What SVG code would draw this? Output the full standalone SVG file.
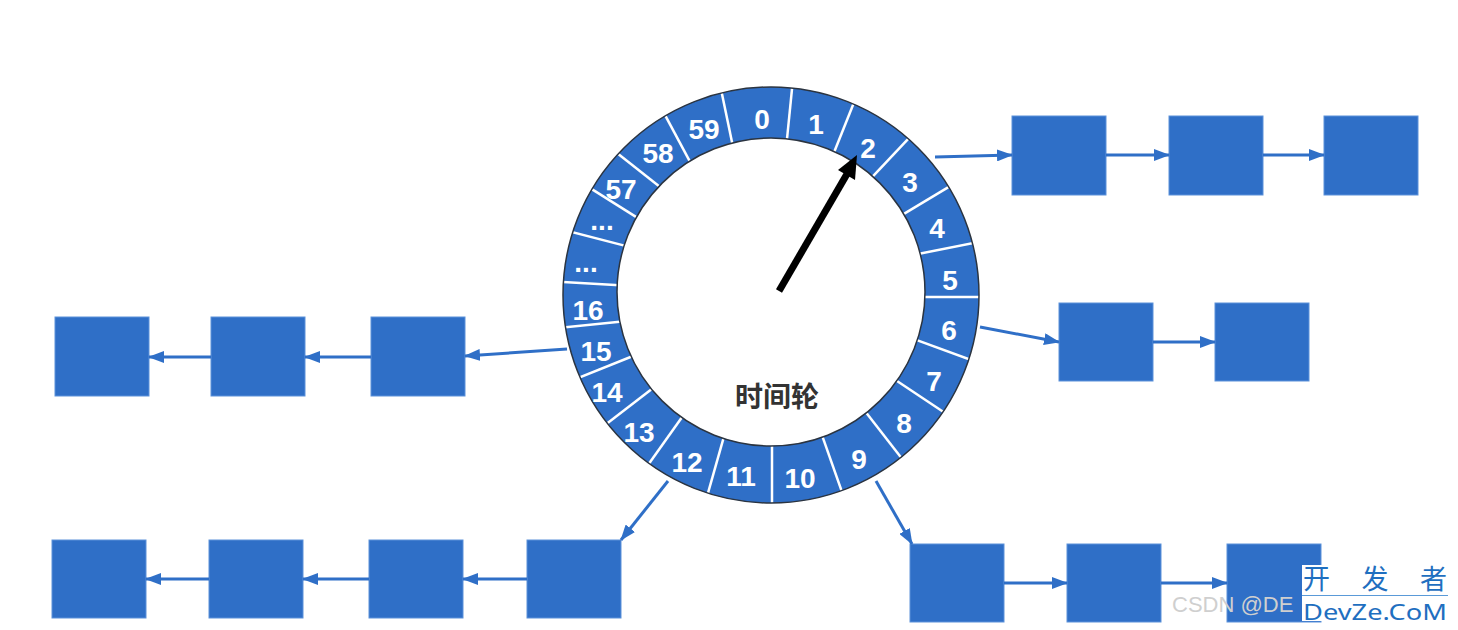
<svg xmlns="http://www.w3.org/2000/svg" width="1458" height="630" viewBox="0 0 1458 630">
<style>
.box{fill:#2F6FC7;stroke:#5C92DA;stroke-width:1}
.conn{stroke:#2F6FC7;stroke-width:3;fill:none;marker-end:url(#ah)}
.num{font-family:"Liberation Sans",Arial,sans-serif;font-weight:bold;font-size:28px;fill:#ffffff;text-anchor:middle;dominant-baseline:central}
.div{stroke:#ffffff;stroke-width:2.5}
</style>
<defs>
<marker id="ah" viewBox="0 0 16 12" refX="15" refY="6" markerWidth="16" markerHeight="12" markerUnits="userSpaceOnUse" orient="auto">
<path d="M0,0 L16,6 L0,12 Z" fill="#2F6FC7"/>
</marker>
<clipPath id="ringclip">
<path clip-rule="evenodd" d="M563,295 a208,208 0 1,0 416,0 a208,208 0 1,0 -416,0 Z M617,292 a154,154 0 1,0 308,0 a154,154 0 1,0 -308,0 Z"/>
</clipPath>
</defs>
<rect width="1458" height="630" fill="#ffffff"/>

<g id="wheel">
<path fill="#2F6FC7" fill-rule="evenodd" d="M563,295 a208,208 0 1,0 416,0 a208,208 0 1,0 -416,0 Z M617,292 a154,154 0 1,0 308,0 a154,154 0 1,0 -308,0 Z"/>
<g clip-path="url(#ringclip)" class="div">
<line x1="719" y1="79.6" x2="735" y2="156.4"/>
<line x1="793.5" y1="74" x2="785.5" y2="154"/>
<line x1="858.4" y1="91.5" x2="829.6" y2="163.5"/>
<line x1="920.2" y1="126.2" x2="865.8" y2="183.8"/>
<line x1="965.5" y1="176.9" x2="893.5" y2="220.1"/>
<line x1="988" y1="240" x2="908" y2="256"/>
<line x1="995" y1="297" x2="909" y2="297"/>
<line x1="985.7" y1="365.4" x2="907.3" y2="336.6"/>
<line x1="958.5" y1="422" x2="886.5" y2="374"/>
<line x1="913.5" y1="473.5" x2="857.5" y2="401.5"/>
<line x1="847.7" y1="508.2" x2="817.3" y2="421.8"/>
<line x1="772" y1="520" x2="772" y2="430"/>
<line x1="703.5" y1="508.9" x2="727.5" y2="424.1"/>
<line x1="638.4" y1="478.5" x2="689.6" y2="406.5"/>
<line x1="592.1" y1="434.9" x2="660.9" y2="382.1"/>
<line x1="563" y1="384" x2="643" y2="352"/>
<line x1="552" y1="328.5" x2="632" y2="320.5"/>
<line x1="549.4" y1="281.1" x2="632.6" y2="285.9"/>
<line x1="557" y1="228.1" x2="637" y2="248.9"/>
<line x1="577.1" y1="179.9" x2="645.9" y2="223.1"/>
<line x1="605.6" y1="144" x2="666.4" y2="192"/>
<line x1="658.1" y1="102.1" x2="694.9" y2="170.9"/>
</g>
<circle cx="771" cy="295" r="208" fill="none" stroke="#2B3440" stroke-width="1.5"/>
<circle cx="771" cy="292" r="154" fill="none" stroke="#2B3440" stroke-width="1.5"/>
<text class="num" x="762" y="119">0</text>
<text class="num" x="816" y="124">1</text>
<text class="num" x="868" y="148">2</text>
<text class="num" x="910" y="182">3</text>
<text class="num" x="937" y="228">4</text>
<text class="num" x="950" y="280">5</text>
<text class="num" x="949" y="330">6</text>
<text class="num" x="934" y="381">7</text>
<text class="num" x="904" y="423">8</text>
<text class="num" x="859" y="459">9</text>
<text class="num" x="800" y="478">10</text>
<text class="num" x="741" y="476">11</text>
<text class="num" x="687" y="462">12</text>
<text class="num" x="639" y="432">13</text>
<text class="num" x="607" y="392">14</text>
<text class="num" x="596" y="351">15</text>
<text class="num" x="588" y="310">16</text>
<text class="num" x="586" y="262">...</text>
<text class="num" x="602" y="220">...</text>
<text class="num" x="621" y="189">57</text>
<text class="num" x="658" y="153">58</text>
<text class="num" x="704" y="129">59</text>
<text x="777" y="395" font-family="'Noto Sans CJK SC',sans-serif" font-size="28" font-weight="bold" fill="#333333" text-anchor="middle" dominant-baseline="central">时间轮</text>
</g>

<g id="pointer">
<line x1="779" y1="291" x2="847" y2="174" stroke="#000000" stroke-width="7"/>
<polygon points="857,155 855,180 838,170" fill="#000000"/>
</g>

<g id="slot2-list">
<rect id="n2a" class="box" x="1012" y="116" width="94" height="79"/>
<rect id="n2b" class="box" x="1169" y="116" width="94" height="79"/>
<rect id="n2c" class="box" x="1324" y="116" width="94" height="79"/>
</g>
<g id="slot6-list">
<rect id="n6a" class="box" x="1059" y="303" width="94" height="78"/>
<rect id="n6b" class="box" x="1215" y="303" width="94" height="78"/>
</g>
<g id="slot15-list">
<rect id="n15a" class="box" x="371" y="317" width="94" height="79"/>
<rect id="n15b" class="box" x="211" y="317" width="94" height="79"/>
<rect id="n15c" class="box" x="55" y="317" width="94" height="79"/>
</g>
<g id="slot12-list">
<rect id="n12a" class="box" x="527" y="540" width="94" height="78"/>
<rect id="n12b" class="box" x="369" y="540" width="94" height="78"/>
<rect id="n12c" class="box" x="209" y="540" width="94" height="78"/>
<rect id="n12d" class="box" x="52" y="540" width="94" height="78"/>
</g>
<g id="slot9-list">
<rect id="n9a" class="box" x="910" y="544" width="94" height="78"/>
<rect id="n9b" class="box" x="1067" y="544" width="94" height="78"/>
<rect id="n9c" class="box" x="1227" y="544" width="94" height="78"/>
</g>

<g id="connectors">
<line class="conn" x1="935" y1="157" x2="1012" y2="155"/>
<line class="conn" x1="1106" y1="155" x2="1169" y2="155"/>
<line class="conn" x1="1263" y1="155" x2="1324" y2="155"/>
<line class="conn" x1="980" y1="327" x2="1059" y2="342"/>
<line class="conn" x1="1153" y1="342" x2="1215" y2="342"/>
<line class="conn" x1="567" y1="349" x2="465" y2="356"/>
<line class="conn" x1="371" y1="357" x2="305" y2="357"/>
<line class="conn" x1="211" y1="357" x2="149" y2="357"/>
<line class="conn" x1="668" y1="481" x2="621" y2="540"/>
<line class="conn" x1="527" y1="579" x2="463" y2="579"/>
<line class="conn" x1="369" y1="579" x2="303" y2="579"/>
<line class="conn" x1="209" y1="579" x2="146" y2="579"/>
<line class="conn" x1="876" y1="481" x2="912" y2="544"/>
<line class="conn" x1="1004" y1="583" x2="1067" y2="583"/>
<line class="conn" x1="1161" y1="583" x2="1227" y2="583"/>
</g>

<g id="watermark">
<text x="1172" y="612" font-family="'Liberation Sans',Arial,sans-serif" font-size="22" fill="#cfcfcf">CSDN @DE</text>
<rect x="1302" y="565" width="146" height="56" fill="#ffffff"/>
<text x="1303" y="589" font-family="'Noto Sans CJK SC',sans-serif" font-size="27" fill="#1F6FC0" textLength="144" lengthAdjust="spacing">开发者</text>
<line x1="1302" y1="595.5" x2="1448" y2="595.5" stroke="#5A9AD8" stroke-width="1"/>
<text x="1303" y="620" font-family="'Noto Sans',sans-serif" font-size="22" fill="#1F6FC0" textLength="144" lengthAdjust="spacingAndGlyphs">DevZe.CoM</text>
</g>
</svg>
